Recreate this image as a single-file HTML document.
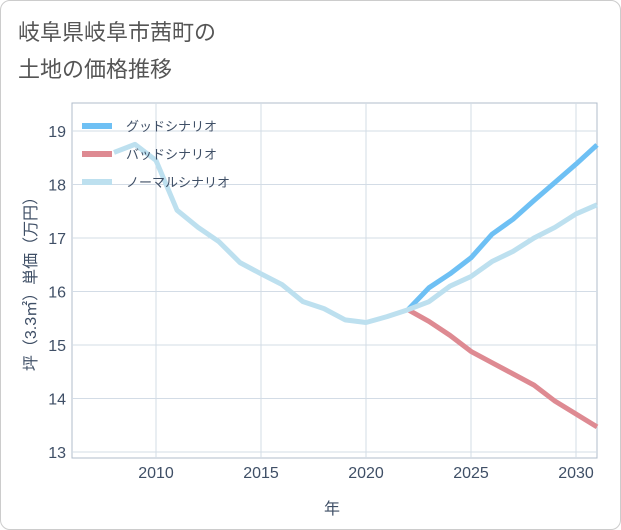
<!DOCTYPE html>
<html><head><meta charset="utf-8"><style>
body{margin:0;background:#fff;font-family:"Liberation Sans","Noto Sans CJK JP",sans-serif}
#wrap{position:relative;width:619px;height:528px;border:1px solid #ccc;border-radius:10px;overflow:hidden}
</style></head><body>
<div id="wrap">
<svg id="chart" width="621" height="530" style="position:absolute;left:-1px;top:-1px">
<text x="18" y="40" font-size="22" fill="#555">岐阜県岐阜市茜町の</text>
<text x="18" y="77" font-size="22" fill="#555">土地の価格推移</text>
<rect x="72" y="103" width="525" height="355" fill="#fff" stroke="#b0bccb"/>
<g id="grid"></g><g id="lines"></g><g id="legend"></g>
<text x="332" y="514" font-size="16" fill="#3f4f66" text-anchor="middle">年</text>
<text transform="translate(36,280) rotate(-90)" font-size="16" fill="#3f4f66" text-anchor="middle">坪（3.3㎡）単価（万円）</text>
</svg></div>
<script>
const years=[2008,2009,2010,2011,2012,2013,2014,2015,2016,2017,2018,2019,2020,2021,2022,2023,2024,2025,2026,2027,2028,2029,2030,2031];
const normal=[18.6,18.75,18.45,17.52,17.2,16.93,16.54,16.33,16.13,15.81,15.68,15.47,15.42,15.53,15.66,15.81,16.1,16.28,16.56,16.75,17.0,17.2,17.45,17.62];
const goodYears=[2022,2023,2024,2025,2026,2027,2028,2029,2030,2031];
const good=[15.66,16.07,16.33,16.63,17.07,17.35,17.7,18.04,18.38,18.74];
const bad=[15.66,15.44,15.18,14.88,14.67,14.46,14.25,13.95,13.71,13.47];
const xTicks=[2010,2015,2020,2025,2030];
const yTicks=[13,14,15,16,17,18,19];
const X=v=>156+(v-2010)*21, Y=v=>131+(19-v)*53.5;
const NS="http://www.w3.org/2000/svg";
function mk(t,a,p){const e=document.createElementNS(NS,t);for(const k in a)e.setAttribute(k,a[k]);p.appendChild(e);return e;}
const g=document.getElementById('grid');
xTicks.forEach(t=>{const l=mk('line',{x1:X(t),x2:X(t),y1:103,y2:458,stroke:'#d3dce6'},g);


const tx=mk('text',{x:X(t),y:478,'font-size':16,fill:'#3f4f66','text-anchor':'middle'},g);tx.textContent=t;

});
yTicks.forEach(t=>{const l=mk('line',{x1:72,x2:597,y1:Y(t),y2:Y(t),stroke:'#d3dce6'},g);


const tx=mk('text',{x:66,y:Y(t)+6,'font-size':16,fill:'#3f4f66','text-anchor':'end'},g);tx.textContent=t;

});
const L=document.getElementById('lines');
function line(xs,ys,c,n){const p=mk('polyline',{points:xs.map((x,i)=>X(x)+','+Y(ys[i])).join(' '),fill:'none',stroke:c,'stroke-width':5,'stroke-linejoin':'round'},L);

}
line(goodYears,bad,'#de8a92','bad-scenario-line');
line(goodYears,good,'#6ec0f4','good-scenario-line');
line(years,normal,'#bde0ef','normal-scenario-line');
const lg=document.getElementById('legend');
[['グッドシナリオ','#6ec0f4',126],['バッドシナリオ','#de8a92',154],['ノーマルシナリオ','#bde0ef',182]].forEach(([t,c,y])=>{
const r=mk('rect',{x:82,y:y-3,width:30,height:6,fill:c},lg);


const tx=mk('text',{x:126,y:y+5,'font-size':13,fill:'#3f4f66'},lg);tx.textContent=t;

});
</script>
</body></html>
